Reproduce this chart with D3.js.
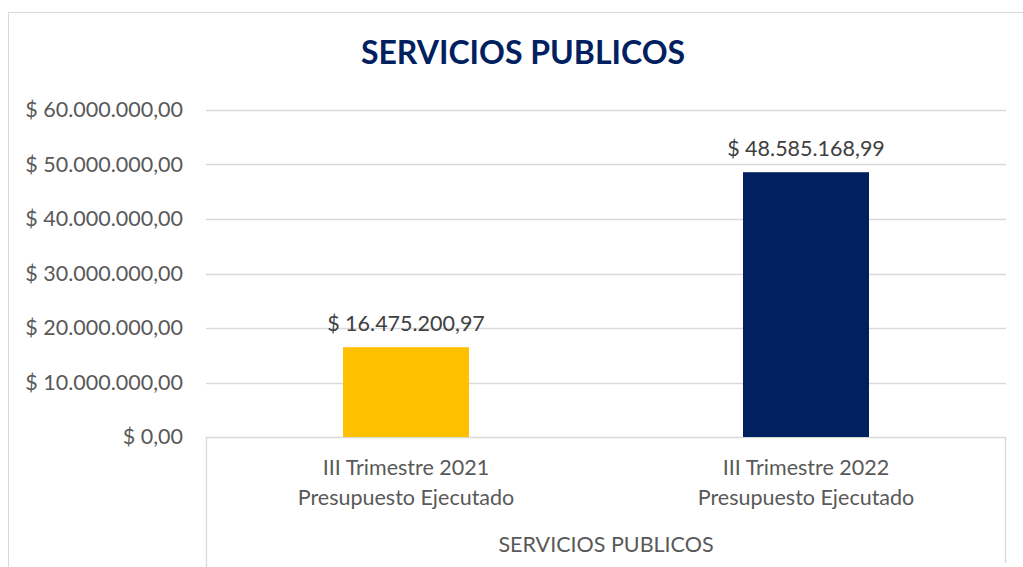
<!DOCTYPE html>
<html>
<head>
<meta charset="utf-8">
<script src="https://cdn.jsdelivr.net/npm/d3@7"></script>
<style>
  body { margin: 0; background: #fff; }
  svg { display: block; font-family: Lato, "Open Sans", sans-serif; }
</style>
</head>
<body>
<div id="chart"></div>
<script>
// data
const categories = ['III Trimestre 2021|Presupuesto Ejecutado', 'III Trimestre 2022|Presupuesto Ejecutado'];
const values = [16475200.97, 48585168.99];
const barColors = ['#FFC000', '#002060'];
const tickValues = [0, 10000000, 20000000, 30000000, 40000000, 50000000, 60000000];
const groupLabel = 'SERVICIOS PUBLICOS';
const title = 'SERVICIOS PUBLICOS';

const W = 1023, H = 567;
const margin = { top: 110, right: 17, bottom: 130, left: 206 };
const width = W - margin.left - margin.right;
const height = H - margin.top - margin.bottom;
const fs = '21.5px';

const svg = d3.select('#chart').append('svg')
    .attr('width', W)
    .attr('height', H);

// outer chart border
svg.append('rect')
    .attr('x', 8.5).attr('y', 12.5)
    .attr('width', W + 20).attr('height', H + 20)
    .attr('fill', 'none')
    .attr('stroke', '#d9d9d9');

const g = svg.append('g').attr('transform', 'translate(' + margin.left + ',' + margin.top + ')');

const x = d3.scaleBand().domain(categories).range([0, width]).padding(0);
const y = d3.scaleLinear().domain([0, 60000000]).range([height, 0]);

const money = v => '$ ' + d3.formatLocale({ decimal: ',', thousands: '.', grouping: [3], currency: ['', ''] }).format(',.2f')(v);

// gridlines
g.append('g').selectAll('line')
    .data(tickValues.slice(1))
    .enter().append('line')
    .attr('x1', 0).attr('x2', width)
    .attr('y1', d => Math.round(y(d)) + 0.5).attr('y2', d => Math.round(y(d)) + 0.5)
    .attr('stroke', '#d9d9d9').attr('stroke-width', 1.3);

// y axis labels
const yAxis = g.append('g')
    .attr('transform', 'translate(-23,0)')
    .call(d3.axisLeft(y).tickValues(tickValues).tickSize(0).tickPadding(0).tickFormat(money));
yAxis.select('.domain').remove();
yAxis.selectAll('text')
    .attr('fill', '#595959')
    .style('font-size', fs)
    .style('font-family', 'Lato, sans-serif');

// category box
const boxH = H - margin.top - height;
g.append('path')
    .attr('d', 'M0.5,' + (height + boxH) + 'V' + (height + 0.5) + 'H' + (width - 0.5) + 'V' + (height + boxH - 4))
    .attr('fill', 'none')
    .attr('stroke', '#d9d9d9')
    .attr('stroke-width', 1.3);

// bars
const barW = x.bandwidth() * 0.315;
g.selectAll('.bar')
    .data(values)
    .enter().append('rect')
    .attr('class', 'bar')
    .attr('x', (d, i) => x(categories[i]) + (x.bandwidth() - barW) / 2)
    .attr('y', d => y(d))
    .attr('width', barW)
    .attr('height', d => y(0) - y(d))
    .attr('fill', (d, i) => barColors[i]);

// value labels
g.selectAll('.val')
    .data(values)
    .enter().append('text')
    .attr('class', 'val')
    .attr('x', (d, i) => x(categories[i]) + x.bandwidth() / 2)
    .attr('y', d => y(d) - 16)
    .attr('text-anchor', 'middle')
    .attr('fill', '#404040')
    .style('font-size', fs)
    .text(d => money(d));

// category labels
categories.forEach((c, i) => {
    const t = g.append('text')
        .attr('x', x(c) + x.bandwidth() / 2)
        .attr('y', height + 38)
        .attr('text-anchor', 'middle')
        .attr('fill', '#595959')
        .style('font-size', fs);
    c.split('|').forEach((line, k) => {
        t.append('tspan')
            .attr('x', x(c) + x.bandwidth() / 2)
            .attr('dy', k === 0 ? 0 : 30)
            .text(line);
    });
});

g.append('text')
    .attr('x', width / 2)
    .attr('y', height + 115)
    .attr('text-anchor', 'middle')
    .attr('fill', '#595959')
    .style('font-size', fs)
    .text(groupLabel);

// title
svg.append('text')
    .attr('x', 523)
    .attr('y', 64)
    .attr('text-anchor', 'middle')
    .attr('fill', '#002060')
    .style('font-size', '32px')
    .style('font-weight', 'bold')
    .text(title);
</script>
</body>
</html>
